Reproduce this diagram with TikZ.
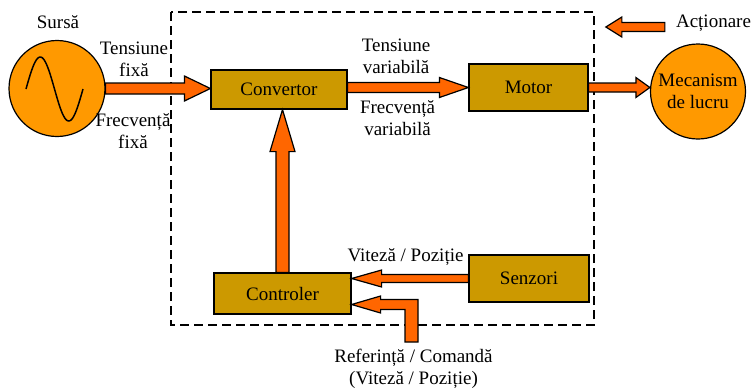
\documentclass[tikz,border=0pt]{standalone}
\usepackage{fontspec}
\setmainfont{Liberation Serif}
\usetikzlibrary{shapes}

\definecolor{arroworange}{RGB}{255,102,0}
\definecolor{boxgold}{RGB}{204,153,0}
\definecolor{discorange}{RGB}{255,153,0}

% block arrows: start, tip, shaft half width, head half width, head length (signed)
\newcommand{\harrow}[5]{%
	\draw[blockarrow] ([yshift=#3]#1) -- ([xshift=#5,yshift=#3]#2) -- ([xshift=#5,yshift=#4]#2) -- (#2) -- ([xshift=#5,yshift=-#4]#2) -- ([xshift=#5,yshift=-#3]#2) -- ([yshift=-#3]#1) -- cycle;
}
\newcommand{\varrow}[5]{%
	\draw[blockarrow] ([xshift=#3]#1) -- ([xshift=#3,yshift=#5]#2) -- ([xshift=#4,yshift=#5]#2) -- (#2) -- ([xshift=-#4,yshift=#5]#2) -- ([xshift=-#3,yshift=#5]#2) -- ([xshift=-#3]#1) -- cycle;
}

\begin{document}
\begin{tikzpicture}[x=1pt,y=-1pt,
	font=\fontsize{19}{22}\selectfont,
	block/.style={draw, line width=1.2pt, fill=boxgold, inner sep=0pt},
	disc/.style={circle, draw, line width=1.2pt, fill=discorange, inner sep=0pt, align=center},
	blockarrow/.style={draw, line width=1.2pt, fill=arroworange, line join=miter},
	txt/.style={align=center, inner sep=0pt}]
	\useasboundingbox (0,0) rectangle (752,389);

	\draw[dash pattern=on 9pt off 5pt, line width=1.2pt] (171,12) rectangle (594,325);

	\node[disc, minimum size=96pt] (src) at (57,88.5) {};
	\node[block, minimum width=136pt, minimum height=39pt] (conv) at (279,89.5) {Convertor};
	\node[block, minimum width=119pt, minimum height=47pt] (motor) at (528.5,87.5) {Motor};
	\node[disc, minimum size=95pt] (mec) at (698,91.5) {Mecanism\\de lucru};
	\node[block, minimum width=137pt, minimum height=41pt] (ctrl) at (282.5,293.5) {Controler};
	\node[block, minimum width=120pt, minimum height=47pt] (sen) at (529,278.5) {Senzori};

	\draw[line width=1.5pt, shift={(src.center)}] plot[domain=0:360, samples=60, smooth] ({-31+\x/360*57},{0.5-32*sin(\x)});

	\node[txt] (sursa) at (58,22) {Sursă};
	\node[txt] (tf) at (134,59) {Tensiune\\fixă};
	\node[txt] (ff) at (133,131) {Frecvență\\fixă};
	\node[txt] (tv) at (396,56) {Tensiune\\variabilă};
	\node[txt] (fv) at (397.5,118) {Frecvență\\variabilă};
	\node[txt] (act) at (713.5,23) {Acționare};
	\node[txt] (vp) at (405.5,257) {Viteză / Poziție};
	\node[txt] (refl) at (413.5,369) {Referință / Comandă\\(Viteză / Poziție)};

	\harrow{src.east}{conv.west |- src.east}{5.5pt}{12.5pt}{-26pt}
	\harrow{conv.east |- motor.west}{motor.west}{5pt}{10pt}{-29pt}
	\harrow{motor.east}{mec.west |- motor.east}{4.5pt}{10pt}{-14pt}
	\varrow{ctrl.north}{ctrl.north |- conv.south}{6.5pt}{12.5pt}{-42pt}
	\harrow{sen.west}{ctrl.east |- sen.west}{4pt}{8.5pt}{30pt}

	\coordinate (actin) at ([xshift=-11pt,yshift=-4pt]act.west);
	\coordinate (acttip) at ([xshift=-59pt]actin);
	\harrow{actin}{acttip}{4.5pt}{10pt}{16pt}

	\coordinate (refin) at (411.5,342);
	\coordinate (reftip) at ([yshift=-11pt]ctrl.east);
	\draw[blockarrow] ([xshift=6.5pt]refin) |- ([xshift=29pt,yshift=5pt]reftip) -- ([xshift=29pt,yshift=8.5pt]reftip) -- (reftip) -- ([xshift=29pt,yshift=-8.5pt]reftip) -- ([xshift=29pt,yshift=-5pt]reftip) -| ([xshift=-6.5pt]refin) -- cycle;
\end{tikzpicture}
\end{document}
